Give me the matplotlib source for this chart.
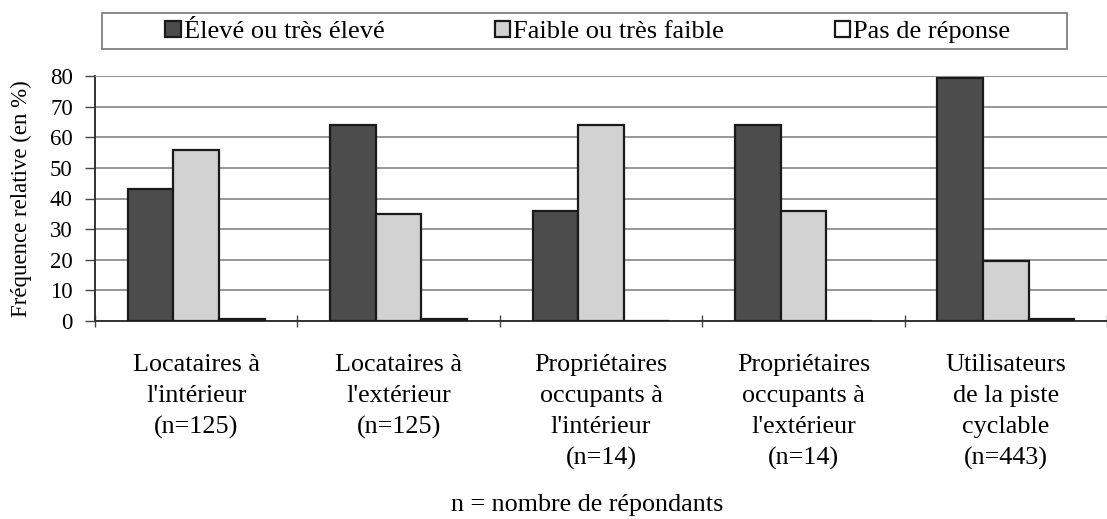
import matplotlib
matplotlib.use("Agg")
import matplotlib.pyplot as plt
from matplotlib.patches import Rectangle
import numpy as np

categories = ["Locataires à\nl'intérieur\n(n=125)",
              "Locataires à\nl'extérieur\n(n=125)",
              "Propriétaires\noccupants à\nl'intérieur\n(n=14)",
              "Propriétaires\noccupants à\nl'extérieur\n(n=14)",
              "Utilisateurs\nde la piste\ncyclable\n(n=443)"]
series_names = ["Élevé ou très élevé", "Faible ou très faible", "Pas de réponse"]
eleve = [43, 64, 36, 64, 79.5]
faible = [56, 35, 64, 36, 19.7]
pas_rep = [0.8, 0.8, 0, 0, 0.8]
yticks = [0, 10, 20, 30, 40, 50, 60, 70, 80]

plt.rcParams['font.family'] = ['Liberation Serif', 'DejaVu Serif']
FS = 16.5
FS_CAT = 18.8
FS_LEG = 19

fig = plt.figure(figsize=(11.07, 5.19), dpi=100)
ax = fig.add_axes([95/1107, 1-321/519, 1-95/1107, (321-76)/519])

x = np.arange(len(categories))
w = 0.225
colors = ['#4c4c4c', '#d2d2d2', '#ffffff']
for i, (vals, c) in enumerate(zip([eleve, faible, pas_rep], colors)):
    ax.bar(x + (i-1)*w, vals, width=w, color=c, edgecolor='#1a1a1a',
           linewidth=1.6, label=series_names[i], zorder=3)

ax.set_xlim(-0.5, -0.5 + 1012/204)
ax.set_ylim(0, 80)
ax.set_yticks(yticks)
ax.set_xticks(x)
ax.set_xticklabels(categories, fontsize=FS_CAT, linespacing=1.52, va='top')
ax.set_xticks(np.arange(-0.5, 5, 1.0), minor=True)
ax.tick_params(axis='x', which='major', length=0, pad=24)
ax.tick_params(axis='x', which='minor', length=9, direction='inout', width=1, color='#444444')
ax.tick_params(axis='y', labelsize=FS, length=7, width=1, color='#444444', pad=9)
ax.yaxis.grid(True, color='#8f8f8f', linewidth=1.3, zorder=0)
ax.set_axisbelow(True)
ax.spines['right'].set_visible(False)
ax.spines['top'].set_linestyle((0, (1, 1)))
ax.spines['top'].set_color('#999999')
ax.spines['left'].set_color('#333333')
ax.spines['left'].set_linewidth(1.4)
ax.spines['bottom'].set_color('#333333')
ax.spines['bottom'].set_linewidth(1.4)
ax.set_ylabel("Fréquence relative (en %)", fontsize=FS)
ax.yaxis.set_label_coords(-0.062, 0.5)

# legend
fig.patches.append(Rectangle((102/1107, 1-49/519), (1067-102)/1107, 36/519,
                             transform=fig.transFigure, fill=False,
                             edgecolor='#777777', linewidth=1.2))
leg = fig.legend(loc='center', bbox_to_anchor=(588/1107, 1-32/519), ncol=3,
                 frameon=False, fontsize=FS_LEG, handlelength=0.57, handleheight=0.57,
                 handletextpad=0.12, columnspacing=4.2)

fig.text(587/1107, 1-505/519, "n = nombre de répondants", fontsize=FS_CAT,
         ha='center', va='center')

fig.savefig("out.png", dpi=100)
